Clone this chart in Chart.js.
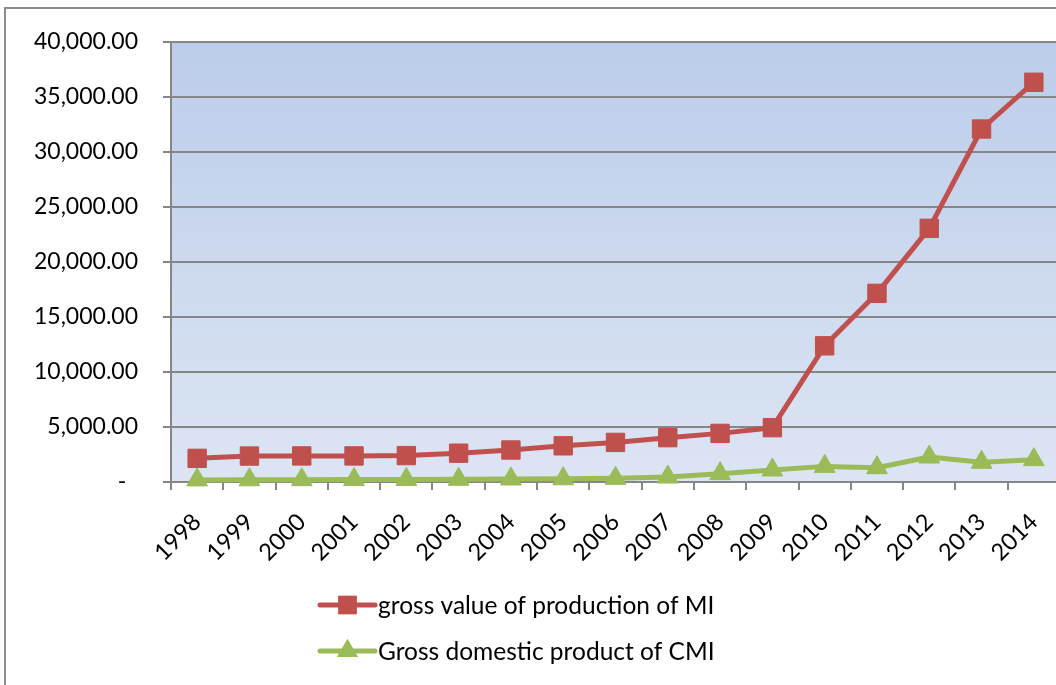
<!DOCTYPE html>
<html><head><meta charset="utf-8">
<script src="https://cdn.jsdelivr.net/npm/chart.js@4.4.0/dist/chart.umd.min.js"></script>
<style>
html,body{margin:0;padding:0;background:#fff;overflow:hidden;width:1056px;height:685px;}
#frame{position:absolute;left:4px;top:7px;width:1100px;height:740px;border:2px solid #8c8c8c;box-sizing:border-box;}
#wrap{position:absolute;left:0;top:0;width:1080px;height:685px;}
</style></head><body>
<div id="frame"></div>
<div id="wrap"><canvas id="c" width="1080" height="685"></canvas></div>
<script>
const years = ['1998','1999','2000','2001','2002','2003','2004','2005','2006','2007','2008','2009','2010','2011','2012','2013','2014'];
const grossValueMI = [2150, 2360, 2370, 2370, 2400, 2620, 2910, 3290, 3600, 4030, 4420, 4940, 12380, 17150, 23060, 32090, 36340];
const gdpCMI = [190, 200, 210, 220, 230, 250, 270, 290, 330, 450, 760, 1090, 1420, 1300, 2270, 1790, 2030];
const seriesNames = ['gross value of production of MI', 'Gross domestic product of CMI'];
const yMin = 0, yMax = 40000, yStep = 5000;

const RED = '#C0504D', GREEN = '#9BBB59', GRID = '#868686';
const FONT = 'Lato, "Open Sans", sans-serif';

const bgPlugin = {
  id: 'bg',
  beforeDraw(chart) {
    const {ctx, chartArea: a} = chart;
    const g = ctx.createLinearGradient(0, a.top, 0, a.bottom);
    g.addColorStop(0, 'rgb(188,205,234)');
    g.addColorStop(1, 'rgb(220,229,243)');
    ctx.save();
    ctx.fillStyle = g;
    ctx.fillRect(a.left, a.top, a.right - a.left, a.bottom - a.top);
    ctx.restore();
  }
};

const legendPlugin = {
  id: 'customLegend',
  afterDraw(chart) {
    const ctx = chart.ctx;
    const items = chart.data.datasets.map((d, i) => ({
      text: d.label, color: d.borderColor, style: d.pointStyle, r: d.pointRadius
    }));
    const x0 = 320, x1 = 375, xt = 378, ys = [605, 651];
    ctx.save();
    items.forEach((it, i) => {
      const y = ys[i];
      ctx.strokeStyle = it.color;
      ctx.lineWidth = 5;
      ctx.lineCap = 'round';
      ctx.beginPath(); ctx.moveTo(x0, y); ctx.lineTo(x1, y); ctx.stroke();
      ctx.fillStyle = it.color;
      Chart.helpers.drawPoint(ctx, {pointStyle: it.style, radius: it.r, borderWidth: 0}, (x0 + x1) / 2, y);
      ctx.fill();
      ctx.fillStyle = '#000';
      ctx.font = '24.5px ' + FONT;
      ctx.textBaseline = 'middle';
      ctx.textAlign = 'left';
      ctx.fillText(it.text, xt, y + 1);
    });
    ctx.restore();
  }
};

const fmt = new Intl.NumberFormat('en-US', {minimumFractionDigits: 2, maximumFractionDigits: 2});

new Chart(document.getElementById('c'), {
  type: 'line',
  data: {
    labels: years,
    datasets: [
      {label: seriesNames[0], data: grossValueMI, borderColor: RED, backgroundColor: RED,
       borderWidth: 5, pointStyle: 'rect', pointRadius: 13, pointBorderWidth: 1, pointBorderColor: RED,
       borderJoinStyle: 'round', tension: 0, clip: false},
      {label: seriesNames[1], data: gdpCMI, borderColor: GREEN, backgroundColor: GREEN,
       borderWidth: 5, pointStyle: 'triangle', pointRadius: 12, pointBorderWidth: 1, pointBorderColor: GREEN,
       borderJoinStyle: 'round', tension: 0, clip: false}
    ]
  },
  options: {
    responsive: false,
    animation: false,
    devicePixelRatio: 1,
    layout: {padding: {left: 0, top: 42, right: 20, bottom: 0}},
    plugins: {legend: {display: false}, tooltip: {enabled: false}},
    scales: {
      x: {
        offset: true,
        grid: {offset: true, drawOnChartArea: false, drawTicks: true, tickLength: 8, color: GRID, lineWidth: 2},
        border: {color: GRID, width: 2},
        ticks: {color: '#000', font: {family: FONT, size: 23.5}, minRotation: 45, maxRotation: 45, padding: 18, autoSkip: false},
        afterFit(s) { s.height = 203; }
      },
      y: {
        min: yMin, max: yMax,
        grid: {color: GRID, lineWidth: 2, tickLength: 8, drawTicks: true},
        border: {color: GRID, width: 2},
        ticks: {stepSize: yStep, color: '#000', font: {family: FONT, size: 23}, padding: 25,
          callback: v => v === 0 ? '-  ' : fmt.format(v)},
        afterFit(s) { s.width = 171; }
      }
    }
  },
  plugins: [bgPlugin, legendPlugin]
});
</script>
</body></html>
